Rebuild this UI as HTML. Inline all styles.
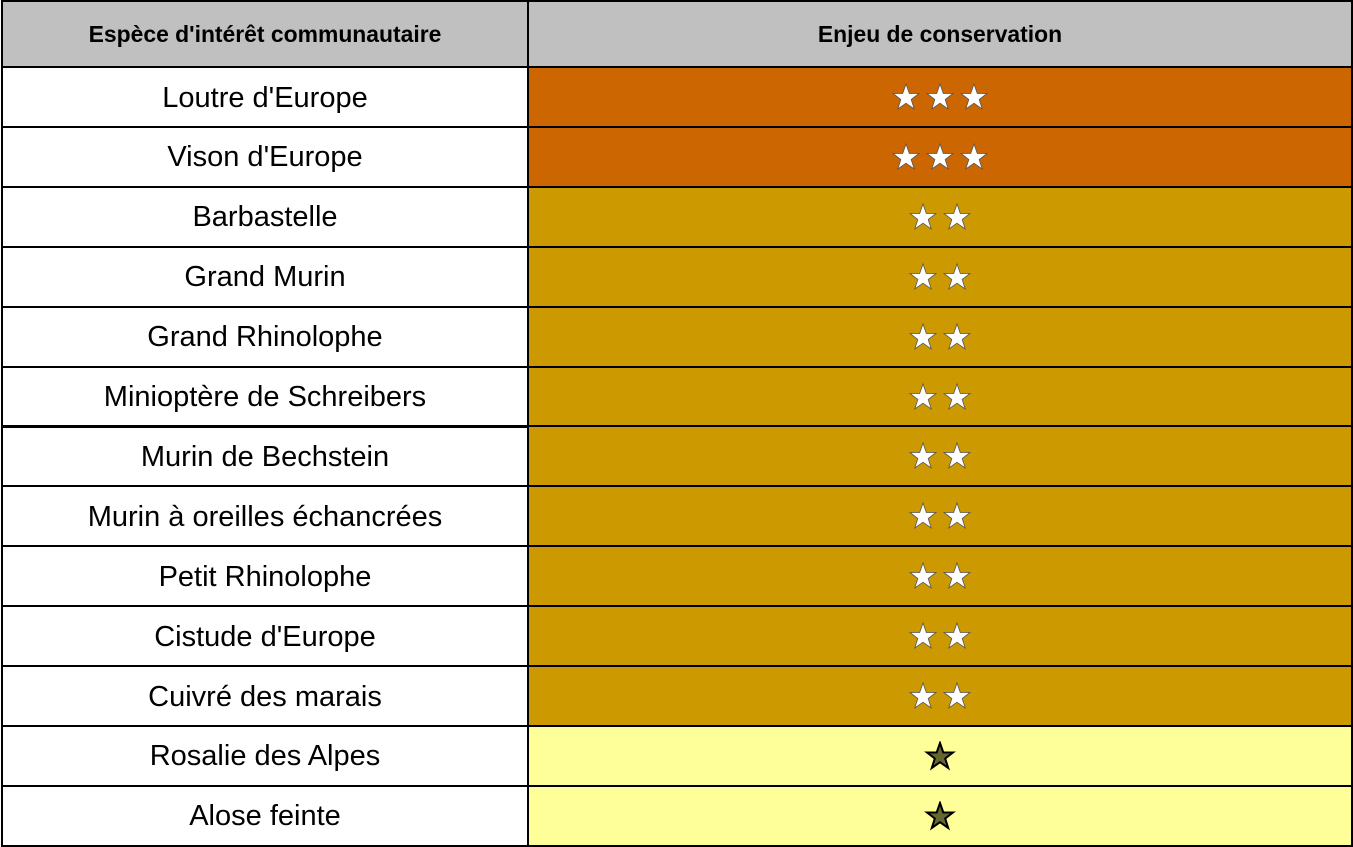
<!DOCTYPE html>
<html><head><meta charset="utf-8"><style>
body{margin:0;width:1353px;height:846px;background:#fff;overflow:hidden;font-family:"Liberation Sans",sans-serif}
.c{position:absolute;box-sizing:border-box;display:flex;align-items:center;justify-content:center;border:2px solid #000}
.h{background:#c0c0c0;font-weight:bold;font-size:22.9px}
.n{font-size:29px;padding-top:2px}
.c svg{display:block}
</style></head><body>
<div class="c h" style="left:1px;top:0;width:528px;height:68px">Espèce d'intérêt communautaire</div>
<div class="c h" style="left:527px;top:0;width:826px;height:68px">Enjeu de conservation</div>
<div id="rows"></div>
<script>
function star(f,s,sw){return '<svg width="34" height="30" viewBox="0 0 34 30"><polygon points="17,2 20.3,11.5 30,11.5 22.2,17.5 25.2,27 17,21.2 8.8,27 11.8,17.5 4,11.5 13.7,11.5" fill="'+f+'" stroke="'+s+'" stroke-width="'+sw+'"/></svg>';}
var d=[["Loutre d'Europe",3],["Vison d'Europe",3],["Barbastelle",2],["Grand Murin",2],["Grand Rhinolophe",2],["Minioptère de Schreibers",2],["Murin de Bechstein",2],["Murin à oreilles échancrées",2],["Petit Rhinolophe",2],["Cistude d'Europe",2],["Cuivré des marais",2],["Rosalie des Alpes",1],["Alose feinte",1]];
var h="";
for(var i=0;i<d.length;i++){var t=66+i*59.9;var k=d[i][1];var bg=k==3?"#cc6600":k==2?"#cc9900":"#ffff99";
var st=k==1?star("#666633","#000",2):star("#fff","#555",0.8);
h+='<div class="c n" style="left:1px;top:'+t+'px;width:528px;height:62px">'+d[i][0]+'</div>';
h+='<div class="c" style="left:527px;top:'+t+'px;width:826px;height:62px;background:'+bg+'">'+st.repeat(k)+'</div>';}
document.getElementById("rows").innerHTML=h;
</script>
</body></html>
